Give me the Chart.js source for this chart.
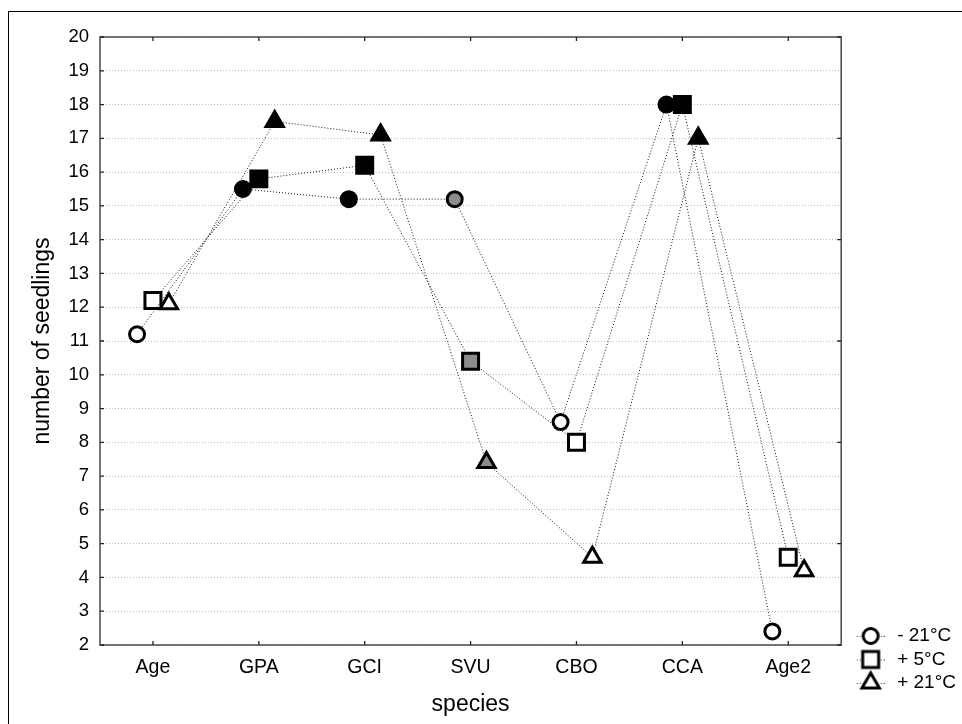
<!DOCTYPE html>
<html>
<head>
<meta charset="utf-8">
<script src="https://cdn.jsdelivr.net/npm/chart.js@4/dist/chart.umd.min.js"></script>
<style>
html,body{margin:0;padding:0;background:#fff;}
#wrap{position:relative;width:962px;height:724px;overflow:hidden;background:#fff;}
#frame{position:absolute;left:8px;top:11px;width:960px;height:720px;border:1px solid #000;box-sizing:border-box;}
#c{position:absolute;left:0;top:0;}
</style>
</head>
<body>
<div id="wrap"><div id="frame"></div><canvas id="c" width="962" height="724"></canvas></div>
<script>
// ---- data ----
const categories = ['Age', 'GPA', 'GCI', 'SVU', 'CBO', 'CCA', 'Age2'];
const seriesLabels = ['- 21°C', '+ 5°C', '+ 21°C'];
const minus21 = [11.2, 15.5, 15.2, 15.2, 8.6, 18.0, 2.4];
const plus5   = [12.2, 15.8, 16.2, 10.4, 8.0, 18.0, 4.6];
const plus21  = [12.1, 17.5, 17.1, 7.4, 4.6, 17.0, 4.2];
const yMin = 2, yMax = 20, yStep = 1;
const xAxisTitle = 'species';
const yAxisTitle = 'number of seedlings';

// ---- styles ----
const FONT = "'Liberation Sans', Arial, sans-serif";
const fillByCategory = ['#ffffff', '#000000', '#000000', '#8c8c8c', '#ffffff', '#000000', '#ffffff'];
const markerStyles = ['circle', 'rect', 'triangle'];
const markerRadius = [7.5, 11.3, 10];
const xShift = [-0.15, 0, 0.15];

Chart.defaults.font.family = FONT;

function drawMarker(c, k, x, y) {
  const H = Chart.helpers;
  if (H && H.drawPoint) {
    H.drawPoint(c, {pointStyle: markerStyles[k], radius: markerRadius[k], rotation: 0, borderWidth: 3}, x, y);
    return;
  }
  const r = markerRadius[k];
  c.beginPath();
  if (k === 0) { c.arc(x, y, r, 0, Math.PI * 2); }
  else if (k === 1) { const h = r * Math.SQRT1_2; c.rect(x - h, y - h, 2 * h, 2 * h); }
  else { c.moveTo(x, y - r); c.lineTo(x + r * 0.866, y + r / 2); c.lineTo(x - r * 0.866, y + r / 2); c.closePath(); }
  c.fill(); c.stroke();
}

function makeIcon(k) {
  const cv = document.createElement('canvas');
  cv.width = 34; cv.height = 28;
  const c = cv.getContext('2d');
  c.strokeStyle = '#444'; c.lineWidth = 1; c.setLineDash([1, 2]);
  c.beginPath(); c.moveTo(6, 14.5); c.lineTo(34, 14.5); c.stroke();
  c.setLineDash([]);
  c.fillStyle = '#fff'; c.strokeStyle = '#000'; c.lineWidth = 3;
  drawMarker(c, k, 20, 14);
  return cv;
}
const legendIcons = markerStyles.map((_, k) => makeIcon(k));

const datasets = [minus21, plus5, plus21].map((vals, k) => ({
  label: seriesLabels[k],
  data: vals.map((v, i) => ({x: i + xShift[k], y: v})),
  showLine: true,
  fill: false,
  tension: 0,
  borderColor: '#111',
  borderWidth: 1,
  borderDash: [1, 2],
  backgroundColor: '#fff',
  pointStyle: markerStyles[k],
  pointRadius: markerRadius[k],
  pointHoverRadius: markerRadius[k],
  pointBackgroundColor: fillByCategory,
  pointBorderColor: '#000',
  pointBorderWidth: 3,
  clip: false
}));

const framePlugin = {
  id: 'frame',
  beforeDatasetsDraw(chart) {
    const {ctx, chartArea: a, scales} = chart;
    ctx.save();
    ctx.setLineDash([]);
    ctx.strokeStyle = '#4a4a4a';
    ctx.lineWidth = 1.5;
    ctx.strokeRect(a.left, a.top, a.right - a.left, a.bottom - a.top);
    ctx.lineWidth = 1.3;
    ctx.strokeStyle = '#222';
    ctx.beginPath();
    scales.y.ticks.forEach(t => {
      const py = scales.y.getPixelForValue(t.value);
      ctx.moveTo(a.left, py); ctx.lineTo(a.left + 4, py);
    });
    scales.y2.ticks.forEach(t => {
      const py = scales.y2.getPixelForValue(t.value);
      ctx.moveTo(a.right, py); ctx.lineTo(a.right - 4, py);
    });
    scales.x.ticks.forEach(t => {
      const px = scales.x.getPixelForValue(t.value);
      ctx.moveTo(px, a.bottom); ctx.lineTo(px, a.bottom - 4);
      ctx.moveTo(px, a.top); ctx.lineTo(px, a.top + 4);
    });
    ctx.stroke();
    ctx.restore();
  }
};

new Chart(document.getElementById('c'), {
  type: 'line',
  data: {datasets},
  plugins: [framePlugin],
  options: {
    responsive: false,
    devicePixelRatio: 1,
    animation: false,
    events: [],
    layout: {padding: {top: 37, left: 0, right: -4, bottom: 27}},
    plugins: {
      tooltip: {enabled: false},
      legend: {
        position: 'right',
        align: 'end',
        labels: {
          usePointStyle: true,
          pointStyleWidth: 40,
          padding: 4.5,
          color: '#000',
          font: {size: 19, family: FONT},
          generateLabels(chart) {
            const items = Chart.defaults.plugins.legend.labels.generateLabels(chart);
            items.forEach((it, k) => { it.pointStyle = legendIcons[k]; });
            return items;
          }
        }
      }
    },
    scales: {
      x: {
        type: 'linear',
        position: 'bottom',
        min: -0.5,
        max: categories.length - 0.5,
        afterBuildTicks(s) { s.ticks = categories.map((_, i) => ({value: i})); },
        afterFit(s) { s.height = 52; },
        grid: {display: false, drawTicks: false},
        border: {display: false},
        ticks: {
          autoSkip: false, maxRotation: 0, padding: 11,
          color: '#000', font: {size: 19.5, family: FONT},
          callback: (v) => categories[v] ?? ''
        },
        title: {display: true, text: xAxisTitle, color: '#000', font: {size: 23, family: FONT}, padding: {top: 0, bottom: -21.8}}
      },
      y: {
        type: 'linear',
        position: 'left',
        min: yMin, max: yMax,
        afterFit(s) { s.width = 100; },
        grid: {color: '#bdbdbd', lineWidth: 1, drawTicks: false},
        border: {display: false, dash: [1, 2]},
        ticks: {stepSize: yStep, padding: 11, color: '#000', font: {size: 18.5, family: FONT}},
        title: {display: true, text: yAxisTitle, color: '#000', font: {size: 23, family: FONT}, padding: {top: 29, bottom: 0}}
      },
      y2: {
        type: 'linear',
        position: 'right',
        min: yMin, max: yMax,
        afterFit(s) { s.width = 2; },
        grid: {display: false, drawTicks: false},
        border: {display: false},
        ticks: {display: false, stepSize: 3}
      }
    }
  }
});
</script>
</body>
</html>
